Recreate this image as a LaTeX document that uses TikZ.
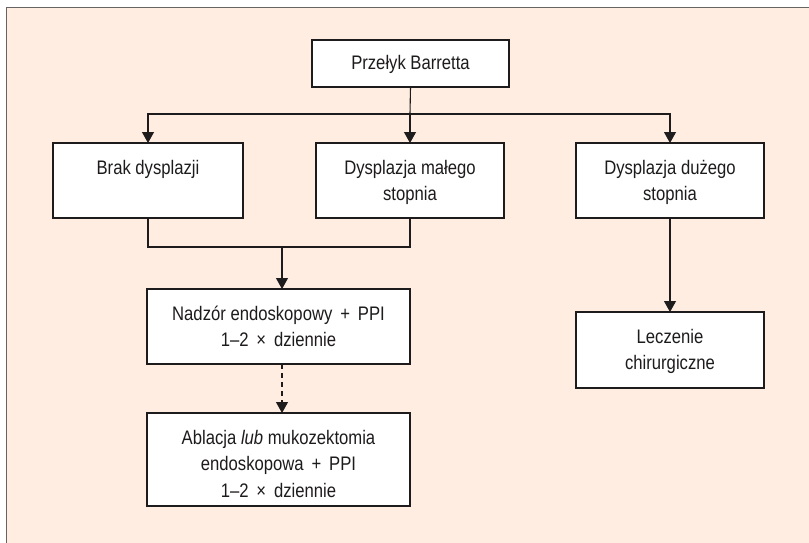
\documentclass[tikz,border=0pt]{standalone}
\usepackage{fontspec}
\setmainfont[FakeStretch=0.85]{Liberation Sans}
\usetikzlibrary{arrows.meta}
\definecolor{paper}{RGB}{254,237,224}
\definecolor{framegray}{RGB}{105,100,100}
\definecolor{ink}{RGB}{30,27,28}
\newcommand{\lines}[1]{\begin{tabular}[t]{@{}c@{}}#1\end{tabular}}
\begin{document}
\begin{tikzpicture}[x=1pt,y=-1pt,
  box/.style={draw=ink,line width=1.1pt,fill=white,inner sep=0pt,outer sep=0pt,anchor=north west},
  txt/.style={anchor=base,inner sep=0pt,font=\fontsize{19.6}{26.5}\selectfont,text=ink},
  conn/.style={draw=ink,line width=1.1pt},
  arr/.style={conn,-{Triangle[length=11pt,width=12pt]}}
]
\useasboundingbox (0,0) rectangle (809,542);
% panel background and its frame
\fill[paper] (6.5,7.5) rectangle (812,545);
\draw[framegray,line width=1.6pt] (6.5,545) -- (6.5,7.5) -- (812,7.5);

% boxes
\node[box,minimum width=197pt,minimum height=47pt] (top) at (312,40) {};
\node[box,minimum width=190pt,minimum height=75pt] (brak) at (53,143) {};
\node[box,minimum width=188pt,minimum height=75pt] (maly) at (316,143) {};
\node[box,minimum width=188pt,minimum height=75pt] (duzy) at (576,143) {};
\node[box,minimum width=263pt,minimum height=75pt] (nadzor) at (147,289) {};
\node[box,minimum width=263pt,minimum height=93pt] (ablacja) at (147,413) {};
\node[box,minimum width=188pt,minimum height=76pt] (leczenie) at (576,312) {};

% texts
\node[txt] (topT) at ([yshift=-29pt]top.north) {\lines{Przełyk Barretta}};
\node[txt] (brakT) at ([yshift=-31pt]brak.north) {\lines{Brak dysplazji}};
\node[txt] (malyT) at ([yshift=-31pt]maly.north) {\lines{Dysplazja małego\\stopnia}};
\node[txt] (duzyT) at ([yshift=-31pt]duzy.north) {\lines{Dysplazja dużego\\stopnia}};
\node[txt] (nadzorT) at ([yshift=-31pt]nadzor.north) {\lines{Nadzór endoskopowy \,+\, PPI\\1–2 \,×\, dziennie}};
\node[txt] (ablacjaT) at ([yshift=-31pt]ablacja.north) {\lines{Ablacja \textit{lub} mukozektomia\\endoskopowa \,+\, PPI\\1–2 \,×\, dziennie}};
\node[txt] (leczenieT) at ([yshift=-31pt]leczenie.north) {\lines{Leczenie\\chirurgiczne}};

% connectors
\coordinate (split) at (410,114);
\coordinate (join) at (282,247);
\draw[conn] (top.south) -- (split);
\draw[arr] (split) -| (brak.north);
\draw[arr] (split) -- (maly.north);
\draw[arr] (split) -| (duzy.north);
\draw[conn] (brak.south) |- (join) -| (maly.south);
\draw[arr] (join) -- (join |- nadzor.north);
\draw[arr,dash pattern=on 5pt off 4pt] (join |- nadzor.south) -- (join |- ablacja.north);
\draw[arr] (duzy.south) -- (leczenie.north);
\end{tikzpicture}
\end{document}
